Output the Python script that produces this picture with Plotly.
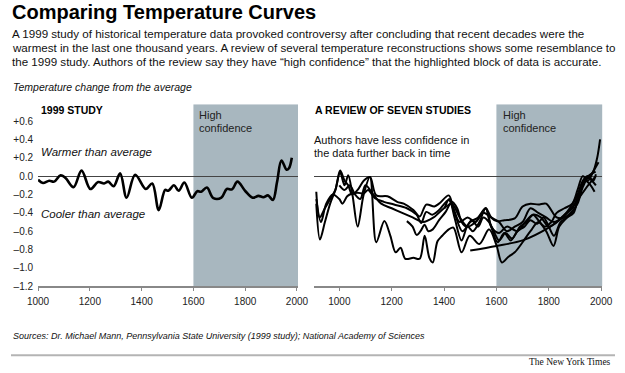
import plotly.graph_objects as go

W, H = 625, 373

# ---------------- data ----------------
tick_years = [1000, 1200, 1400, 1600, 1800, 2000]
y_tick_vals = [0.6, 0.4, 0.2, 0.0, -0.2, -0.4, -0.6, -0.8, -1.0, -1.2]
y_tick_text = ["+0.6", "+0.4", "+0.2", "0.0", "\u20130.2", "\u20130.4", "\u20130.6", "\u20130.8", "\u20131.0", "\u20131.2"]

high_conf_start = 1600

# 1999 study
mann_years = [1000, 1019, 1043, 1062, 1087, 1106, 1137, 1168, 1202, 1232, 1255, 1271, 1292, 1317, 1342, 1375,
              1416, 1441, 1466, 1491, 1503, 1525, 1543, 1565, 1594, 1615, 1630, 1652, 1677, 1708, 1729, 1749,
              1770, 1801, 1829, 1851, 1870, 1888, 1907, 1923, 1940, 1960, 1969, 1980]
mann_vals = [-0.04, -0.075, -0.05, -0.06, 0.01, -0.02, -0.12, 0.06, -0.14, -0.065, -0.08, -0.06, -0.11, 0.03,
             -0.235, 0.015, -0.14, -0.08, -0.37, -0.15, -0.16, -0.10, -0.16, -0.07, -0.235, -0.165, -0.17,
             -0.125, -0.24, -0.235, -0.14, -0.145, -0.06, -0.165, -0.235, -0.215, -0.23, -0.21, -0.26, -0.065,
             0.17, 0.07, 0.085, 0.20]

# review of seven studies
s1_years = [912, 925, 945, 965, 985, 1003, 1020, 1034, 1049, 1070, 1093, 1117, 1141, 1184, 1221, 1246, 1283,
            1307, 1332, 1363, 1381, 1418, 1436, 1460, 1490, 1520, 1545, 1560, 1580, 1602, 1630, 1670, 1700,
            1730, 1760, 1790, 1830, 1860, 1890, 1910, 1930, 1950, 1965, 1980]
s1_vals = [-0.17, -0.45, -0.35, -0.25, -0.15, 0.06, -0.05, -0.10, -0.2, -0.15, -0.05, -0.01, -0.21, -0.22,
           -0.28, -0.30, -0.37, -0.44, -0.31, -0.33, -0.30, -0.21, -0.35, -0.5, -0.45, -0.5, -0.4, -0.35,
           -0.45, -0.49, -0.48, -0.46, -0.33, -0.30, -0.31, -0.30, -0.45, -0.45, -0.38, -0.3, -0.12, -0.02,
           -0.05, -0.1]

s2_years = [912, 926, 945, 965, 985, 1003, 1020, 1034, 1050, 1070, 1093, 1117, 1141, 1172, 1195, 1215, 1234,
            1252, 1283, 1307, 1326, 1344, 1357, 1375, 1393, 1418, 1436, 1467, 1498, 1535, 1572, 1600, 1621,
            1645, 1670, 1700, 1730, 1760, 1790, 1818, 1840, 1870, 1900, 1925, 1950, 1979]
s2_vals = [-0.3, -0.69, -0.5, -0.3, -0.15, 0.04, -0.1, 0.01, -0.2, -0.55, -0.2, -0.01, -0.72, -0.49, -0.65,
           -0.83, -0.78, -0.9, -0.89, -0.9, -0.65, -0.89, -0.94, -0.71, -0.65, -0.58, -0.56, -0.83, -0.65,
           -0.74, -0.58, -0.75, -0.94, -0.88, -0.83, -0.72, -0.6, -0.5, -0.6, -0.76, -0.55, -0.45, -0.35,
           -0.1, 0.0, 0.05]

s3_years = [912, 930, 950, 975, 1000, 1012, 1030, 1049, 1070, 1093, 1110, 1136, 1170, 1209, 1258, 1295, 1313,
            1332, 1355, 1381, 1418, 1440, 1470, 1500, 1530, 1559, 1580, 1610, 1640, 1680, 1710, 1740, 1770,
            1800, 1830, 1860, 1890, 1915, 1940, 1960, 1975]
s3_vals = [-0.25, -0.5, -0.3, -0.2, -0.25, -0.3, -0.22, -0.19, -0.18, -0.19, -0.15, -0.24, -0.28, -0.31,
           -0.35, -0.42, -0.51, -0.39, -0.42, -0.37, -0.26, -0.4, -0.6, -0.5, -0.45, -0.35, -0.55, -0.62,
           -0.55, -0.6, -0.5, -0.42, -0.45, -0.55, -0.5, -0.42, -0.35, -0.2, -0.05, -0.1, -0.17]

s4_years = [1258, 1280, 1295, 1310, 1326, 1340, 1357, 1381, 1406, 1430, 1450, 1467, 1485, 1505, 1530, 1550,
            1572, 1590, 1610, 1635, 1660, 1690, 1715, 1740, 1760, 1785, 1810, 1830, 1860, 1890, 1910, 1930,
            1950, 1970, 1990]
s4_vals = [-0.49, -0.55, -0.64, -0.6, -0.53, -0.6, -0.58, -0.48, -0.39, -0.28, -0.35, -0.5, -0.55, -0.48,
           -0.55, -0.45, -0.5, -0.6, -0.7, -0.62, -0.68, -0.55, -0.5, -0.42, -0.48, -0.55, -0.5, -0.4, -0.35,
           -0.3, -0.15, 0.0, -0.05, 0.05, 0.15]

s5_years = [1500, 1600, 1700, 1800, 1850, 1900, 1950, 1980]
s5_vals = [-0.81, -0.76, -0.70, -0.56, -0.46, -0.3, -0.1, 0.0]

s6_years = [1402, 1420, 1440, 1467, 1490, 1510, 1535, 1559, 1580, 1605, 1630, 1655, 1680, 1707, 1730, 1755,
            1780, 1800, 1820, 1845, 1870, 1895, 1915, 1935, 1953, 1970, 1985, 1996]
s6_vals = [-0.35, -0.25, -0.45, -0.7, -0.55, -0.6, -0.5, -0.35, -0.55, -0.72, -0.62, -0.7, -0.6, -0.55,
           -0.48, -0.52, -0.45, -0.55, -0.65, -0.5, -0.45, -0.4, -0.2, -0.05, -0.01, 0.05, 0.2, 0.40]

s7_years = [1000, 1020, 1040, 1060, 1080, 1100, 1130, 1160, 1200, 1240, 1280, 1320, 1360, 1400, 1430, 1460,
            1490, 1520, 1550, 1580, 1610, 1640, 1670, 1700, 1730, 1760, 1790, 1820, 1850, 1880, 1910, 1930,
            1950, 1970, 1980]
s7_vals = [-0.1, -0.15, -0.1, -0.2, -0.25, -0.1, -0.2, -0.3, -0.35, -0.4, -0.45, -0.5, -0.45, -0.35, -0.3,
           -0.45, -0.55, -0.5, -0.4, -0.45, -0.5, -0.6, -0.55, -0.5, -0.35, -0.4, -0.45, -0.5, -0.45, -0.35,
           -0.2, -0.05, 0.0, -0.05, 0.02]

review_series = [
    (s1_years, s1_vals), (s2_years, s2_vals), (s3_years, s3_vals), (s4_years, s4_vals),
    (s5_years, s5_vals), (s6_years, s6_vals), (s7_years, s7_vals),
]

# ---------------- layout helpers ----------------
def px(x):
    return x / W

def py(y):
    return 1 - y / H

Y_RANGE = [-1.2, 0.782]
LEFT_X_RANGE = [1000, 2004]
RIGHT_X_RANGE = [905, 2005]
SHADE = "#a8b7bf"
FONT = "Liberation Sans, Arial, sans-serif"

fig = go.Figure()

fig.add_trace(go.Scatter(x=mann_years, y=mann_vals, mode="lines",
                         line=dict(color="#000", width=2.6, shape="spline", smoothing=1.0),
                         xaxis="x", yaxis="y", showlegend=False, hoverinfo="skip"))
for yrs, vals in review_series:
    fig.add_trace(go.Scatter(x=yrs, y=vals, mode="lines",
                             line=dict(color="#000", width=2.0, shape="spline", smoothing=0.9),
                             xaxis="x2", yaxis="y2", showlegend=False, hoverinfo="skip"))

axis_common = dict(showgrid=False, zeroline=False, tickfont=dict(family=FONT, size=10, color="#222"))

fig.update_layout(
    autosize=True,
    margin=dict(l=0, r=0, t=0, b=0),
    paper_bgcolor="white", plot_bgcolor="white",
    font=dict(family=FONT, color="#111"),
    xaxis=dict(domain=[px(28), px(297)], range=LEFT_X_RANGE, anchor="y",
               tickvals=tick_years, ticks="outside", ticklen=3, tickcolor="#888",
               showline=True, linecolor="#888", linewidth=1.5, ticklabelstandoff=2, **axis_common),
    yaxis=dict(domain=[py(291), py(106)], range=Y_RANGE, anchor="x",
               tickvals=y_tick_vals, ticktext=y_tick_text, ticks="", showline=False,
               ticklabelstandoff=4,
               zeroline=True, zerolinecolor="#444", zerolinewidth=1,
               showgrid=False, tickfont=dict(family=FONT, size=10, color="#222")),
    xaxis2=dict(domain=[px(314), px(612)], range=RIGHT_X_RANGE, anchor="y2",
                tickvals=tick_years, ticks="outside", ticklen=3, tickcolor="#888",
                showline=True, linecolor="#888", linewidth=1.5, ticklabelstandoff=2, **axis_common),
    yaxis2=dict(domain=[py(291), py(106)], range=Y_RANGE, anchor="x2",
                showticklabels=False, ticks="", showline=False,
                zeroline=True, zerolinecolor="#444", zerolinewidth=1, showgrid=False),
)

# high confidence shading
fig.add_shape(type="rect", xref="x", yref="y", x0=high_conf_start, x1=LEFT_X_RANGE[1],
              y0=Y_RANGE[0], y1=Y_RANGE[1], fillcolor=SHADE, line=dict(width=0), layer="below")
fig.add_shape(type="rect", xref="x2", yref="y2", x0=high_conf_start, x1=RIGHT_X_RANGE[1],
              y0=Y_RANGE[0], y1=Y_RANGE[1], fillcolor=SHADE, line=dict(width=0), layer="below")

# bottom rule
fig.add_shape(type="line", xref="paper", yref="paper", x0=0, x1=1, y0=py(361), y1=py(361),
              line=dict(color="#b4b4b4", width=2))


def text(x, y, s, size, bold=False, italic=False, family=FONT, color="#111", anchor="left"):
    fig.add_annotation(x=px(x), y=py(y), xref="paper", yref="paper", text=s, showarrow=False,
                       xanchor=anchor, yanchor="middle", align=anchor, borderpad=0,
                       font=dict(family=family, size=size, color=color,
                                 weight="bold" if bold else "normal",
                                 style="italic" if italic else "normal"))


text(0, 12, "Comparing Temperature Curves", 20, bold=True, color="#000")
text(0, 34, "A 1999 study of historical temperature data provoked controversy after concluding that recent decades were the", 11.6)
text(0, 48, "warmest in the last one thousand years. A review of several temperature reconstructions shows some resemblance to", 11.6)
text(0, 62, "the 1999 study. Authors of the review say they have \u201chigh confidence\u201d that the highlighted block of data is accurate.", 11.6)
text(1, 88, "Temperature change from the average", 10.5, italic=True)

text(30, 112, "1999 STUDY", 10.5, bold=True, color="#000")
text(314, 112, "A REVIEW OF SEVEN STUDIES", 10.5, bold=True, color="#000")

text(194, 117, "High", 11, color="#222")
text(194, 130, "confidence", 11, color="#222")
text(508, 117, "High", 11, color="#222")
text(508, 130, "confidence", 11, color="#222")

text(30, 154, "Warmer than average", 11.5, italic=True)
text(30, 217, "Cooler than average", 11.5, italic=True)
text(313, 142, "Authors have less confidence in", 11)
text(313, 156, "the data further back in time", 11)

text(1, 341, "Sources: Dr. Michael Mann, Pennsylvania State University (1999 study); National Academy of Sciences", 9, italic=True)
text(622, 368, "The New York Times", 9.5, family="Liberation Serif, Times New Roman, serif", color="#111", anchor="right")

fig.write_html(
    "out.html",
    config={"displayModeBar": False, "responsive": True},
    default_width="100vw",
    default_height="100vh",
    post_script=("document.documentElement.style.margin='0';document.body.style.margin='0';"
                 "document.body.style.padding='0';document.body.style.overflow='hidden';"
                 "Plotly.Plots.resize(document.getElementById('{plot_id}'));"),
)
